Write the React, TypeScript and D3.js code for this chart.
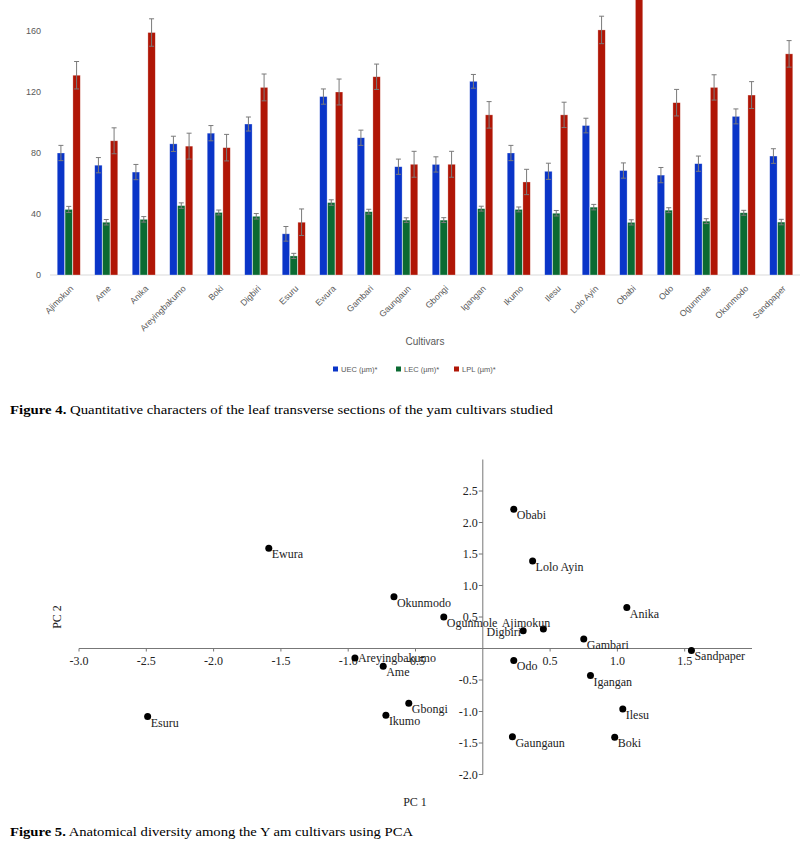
import React, { useEffect, useRef } from "react";
import * as d3 from "d3";

// Figure 4 data
const cultivars = [
  "Ajimokun", "Ame", "Anika", "Areyingbakumo", "Boki", "Digbiri", "Esuru", "Ewura", "Gambari", "Gaungaun",
  "Gbongi", "Igangan", "Ikumo", "Ilesu", "Lolo Ayin", "Obabi", "Odo", "Ogunmole", "Okunmodo", "Sandpaper",
];
const uec = [80, 72, 67.5, 86, 93, 99, 27, 117, 90, 71, 72.5, 127, 80, 68, 98, 68.5, 65.5, 73, 104, 78];
const lec = [43, 34.6, 36.5, 45.5, 41, 38.5, 12.5, 47.5, 41.5, 36, 36, 43.5, 43, 40.5, 44.5, 34.5, 42.5, 35.3, 40.8, 34.7];
const lpl = [131, 88, 159, 84.5, 83.5, 123, 34.6, 120, 130, 72.6, 72.6, 105, 61, 105, 160.7, 195, 113, 123, 118, 145];
const uecErr = [5, 5, 5, 5, 5, 4.6, 4.8, 5, 5, 5, 5, 4.5, 5, 5.3, 4.8, 5, 5, 5, 4.9, 4.8];
const lecErr = [2, 1.8, 1.8, 1.8, 1.6, 1.8, 1.7, 1.8, 1.6, 1.5, 1.6, 1.6, 1.6, 1.8, 1.8, 1.7, 1.6, 1.6, 1.6, 1.8];
const lplErr = [9, 8.5, 9, 8.5, 8.7, 8.8, 8.7, 8.5, 8.3, 8.5, 8.5, 8.7, 8.3, 8.3, 9, 9, 8.7, 8.3, 8.8, 8.7];
const seriesNames = ["UEC (µm)*", "LEC (µm)*", "LPL (µm)*"];
const barTicks = [0, 40, 80, 120, 160];

// Figure 5 data (PCA scores)
const pcaNames = [
  "Ewura", "Esuru", "Areyingbakumo", "Ame", "Ikumo", "Okunmodo", "Ogunmole", "Gbongi", "Digbiri", "Ajimokun",
  "Odo", "Obabi", "Lolo Ayin", "Anika", "Gambari", "Sandpaper", "Igangan", "Ilesu", "Gaungaun", "Boki",
];
const pc1 = [-1.59, -2.49, -0.95, -0.74, -0.72, -0.66, -0.29, -0.55, 0.3, 0.45, 0.23, 0.23, 0.37, 1.07, 0.75, 1.55, 0.8, 1.04, 0.22, 0.98];
const pc2 = [1.59, -1.08, -0.15, -0.28, -1.06, 0.82, 0.5, -0.87, 0.28, 0.31, -0.19, 2.21, 1.39, 0.65, 0.15, -0.03, -0.43, -0.96, -1.4, -1.41];
const pcaXTicks = [-3, -2.5, -2, -1.5, -1, -0.5, 0.5, 1, 1.5];
const pcaYTicks = [-2, -1.5, -1, -0.5, 0.5, 1, 1.5, 2, 2.5];

const colors = ["#0a35c8", "#0b6a32", "#b01606"];

const App = () => {
  const svgRef = useRef<SVGSVGElement>(null);

  useEffect(() => {
    const svg = d3.select(svgRef.current);
    svg.selectAll("*").remove();

    // ---------- Figure 4: grouped bars ----------
    const values = [uec, lec, lpl];
    const errs = [uecErr, lecErr, lplErr];
    const x0 = d3.scaleBand().domain(cultivars).range([50, 800]).paddingInner(0.36).paddingOuter(0.18);
    const x1 = d3.scaleBand().domain(seriesNames).range([0, x0.bandwidth()]).padding(0.06);
    const y = d3.scaleLinear().domain([0, 160]).range([275, 31]);

    const top = svg.append("g");

    top.append("line")
      .attr("x1", 50).attr("x2", 800)
      .attr("y1", y(0)).attr("y2", y(0))
      .attr("stroke", "#d9d9d9");

    top.selectAll(".ytick")
      .data(barTicks)
      .enter()
      .append("text")
      .attr("x", 41)
      .attr("y", (d) => y(d))
      .attr("dy", "0.35em")
      .attr("text-anchor", "end")
      .attr("font-family", "Liberation Sans, Arial, sans-serif")
      .attr("font-size", 9)
      .attr("fill", "#595959")
      .text((d) => d);

    const groups = top.selectAll(".grp")
      .data(cultivars)
      .enter()
      .append("g")
      .attr("transform", (d) => `translate(${x0(d)},0)`);

    seriesNames.forEach((s, si) => {
      groups.append("rect")
        .attr("x", x1(s)!)
        .attr("width", x1.bandwidth())
        .attr("y", (_, i) => y(values[si][i]))
        .attr("height", (_, i) => y(0) - y(values[si][i]))
        .attr("fill", colors[si])
        .attr("stroke", "#ffffff")
        .attr("stroke-opacity", 0.5)
        .attr("stroke-width", 0.6);

      const cx = x1(s)! + x1.bandwidth() / 2;
      groups.append("line")
        .attr("x1", cx).attr("x2", cx)
        .attr("y1", (_, i) => y(values[si][i] - errs[si][i]))
        .attr("y2", (_, i) => y(values[si][i] + errs[si][i]))
        .attr("stroke", "#7a7a7a")
        .attr("stroke-width", 1);
      groups.append("line")
        .attr("x1", cx - 2.5).attr("x2", cx + 2.5)
        .attr("y1", (_, i) => y(values[si][i] + errs[si][i]))
        .attr("y2", (_, i) => y(values[si][i] + errs[si][i]))
        .attr("stroke", "#7a7a7a")
        .attr("stroke-width", 1);
      groups.append("line")
        .attr("x1", cx - 2.5).attr("x2", cx + 2.5)
        .attr("y1", (_, i) => y(values[si][i] - errs[si][i]))
        .attr("y2", (_, i) => y(values[si][i] - errs[si][i]))
        .attr("stroke", "#7a7a7a")
        .attr("stroke-width", 1);
    });

    // rotated category labels
    top.selectAll(".xlab")
      .data(cultivars)
      .enter()
      .append("text")
      .attr("transform", (d) => `translate(${x0(d)! + x0.bandwidth() / 2 + 3},287) rotate(-45)`)
      .attr("text-anchor", "end")
      .attr("dy", "0.35em")
      .attr("font-family", "Liberation Sans, Arial, sans-serif")
      .attr("font-size", 8.7)
      .attr("fill", "#595959")
      .text((d) => d);

    top.append("text")
      .attr("x", 425).attr("y", 345)
      .attr("text-anchor", "middle")
      .attr("font-family", "Liberation Sans, Arial, sans-serif")
      .attr("font-size", 10)
      .attr("fill", "#595959")
      .text("Cultivars");

    // legend
    const legendX = [333, 396, 454];
    seriesNames.forEach((s, si) => {
      top.append("rect")
        .attr("x", legendX[si]).attr("y", 366.5)
        .attr("width", 5).attr("height", 5)
        .attr("fill", colors[si]);
      top.append("text")
        .attr("x", legendX[si] + 8).attr("y", 369)
        .attr("dy", "0.35em")
        .attr("font-family", "Liberation Sans, Arial, sans-serif")
        .attr("font-size", 7.5)
        .attr("fill", "#595959")
        .text(s);
    });

    // ---------- Figure 5: PCA scatter ----------
    const px = d3.scaleLinear().domain([-3, 2]).range([79, 752]);
    const py = d3.scaleLinear().domain([-2, 3]).range([774.5, 459.5]);
    const serif = "Liberation Serif, Times New Roman, serif";
    const axisColor = "#777777";
    const fmt = (d: number) => d.toFixed(1);

    const pca = svg.append("g");

    pca.append("line")
      .attr("x1", px(-3)).attr("x2", px(2))
      .attr("y1", py(0)).attr("y2", py(0))
      .attr("stroke", axisColor);
    pca.append("line")
      .attr("x1", px(0)).attr("x2", px(0))
      .attr("y1", py(-2)).attr("y2", py(3))
      .attr("stroke", axisColor);

    pca.selectAll(".pxt")
      .data(pcaXTicks)
      .enter()
      .append("line")
      .attr("x1", (d) => px(d)).attr("x2", (d) => px(d))
      .attr("y1", py(0)).attr("y2", py(0) + 3)
      .attr("stroke", axisColor);
    pca.selectAll(".pxl")
      .data(pcaXTicks)
      .enter()
      .append("text")
      .attr("x", (d) => px(d))
      .attr("y", py(0) + 16)
      .attr("text-anchor", "middle")
      .attr("font-family", serif)
      .attr("font-size", 12)
      .attr("fill", "#222")
      .text(fmt);

    pca.selectAll(".pyt")
      .data(pcaYTicks)
      .enter()
      .append("line")
      .attr("x1", px(0) - 4).attr("x2", px(0))
      .attr("y1", (d) => py(d)).attr("y2", (d) => py(d))
      .attr("stroke", axisColor);
    pca.selectAll(".pyl")
      .data(pcaYTicks)
      .enter()
      .append("text")
      .attr("x", px(0) - 5)
      .attr("y", (d) => py(d))
      .attr("dy", "0.35em")
      .attr("text-anchor", "end")
      .attr("font-family", serif)
      .attr("font-size", 12)
      .attr("fill", "#222")
      .text(fmt);

    pca.append("text")
      .attr("x", 415).attr("y", 806)
      .attr("text-anchor", "middle")
      .attr("font-family", serif)
      .attr("font-size", 12)
      .attr("fill", "#222")
      .text("PC 1");
    pca.append("text")
      .attr("transform", "translate(61,617) rotate(-90)")
      .attr("text-anchor", "middle")
      .attr("font-family", serif)
      .attr("font-size", 12)
      .attr("fill", "#222")
      .text("PC 2");

    // label placement tweaks for crowded points
    const labelAnchor = (n: string) => (n === "Digbiri" || n === "Ajimokun" ? "end" : "start");
    const labelDx = (n: string) => (n === "Digbiri" ? -2 : n === "Ajimokun" ? 7 : 3);
    const labelDy = (n: string) => (n === "Digbiri" ? 5 : n === "Ajimokun" ? -2 : n === "Areyingbakumo" ? 4 : 10);

    pca.selectAll(".pt")
      .data(pcaNames)
      .enter()
      .append("circle")
      .attr("cx", (_, i) => px(pc1[i]))
      .attr("cy", (_, i) => py(pc2[i]))
      .attr("r", 3.5)
      .attr("fill", "#000");
    pca.selectAll(".ptl")
      .data(pcaNames)
      .enter()
      .append("text")
      .attr("x", (d, i) => px(pc1[i]) + labelDx(d))
      .attr("y", (d, i) => py(pc2[i]) + labelDy(d))
      .attr("text-anchor", (d) => labelAnchor(d))
      .attr("font-family", serif)
      .attr("font-size", 12)
      .attr("fill", "#222")
      .text((d) => d);

    // ---------- captions ----------
    const caption = (yPos: number, bold: string, rest: string, width: number) => {
      const t = svg.append("text")
        .attr("x", 10).attr("y", yPos)
        .attr("font-family", serif)
        .attr("font-size", 13)
        .attr("fill", "#000")
        .attr("textLength", width)
        .attr("lengthAdjust", "spacingAndGlyphs");
      t.append("tspan").attr("font-weight", "bold").text(bold);
      t.append("tspan").text(rest);
    };
    caption(414, "Figure 4.", " Quantitative characters of the leaf transverse sections of the yam cultivars studied", 543);
    caption(836, "Figure 5.", " Anatomical diversity among the Y am cultivars using PCA", 403);
  }, []);

  return (
    <svg
      ref={svgRef}
      width={800}
      height={846}
      style={{ position: "absolute", left: 0, top: 0, background: "#fff" }}
    ></svg>
  );
};

export default App;
